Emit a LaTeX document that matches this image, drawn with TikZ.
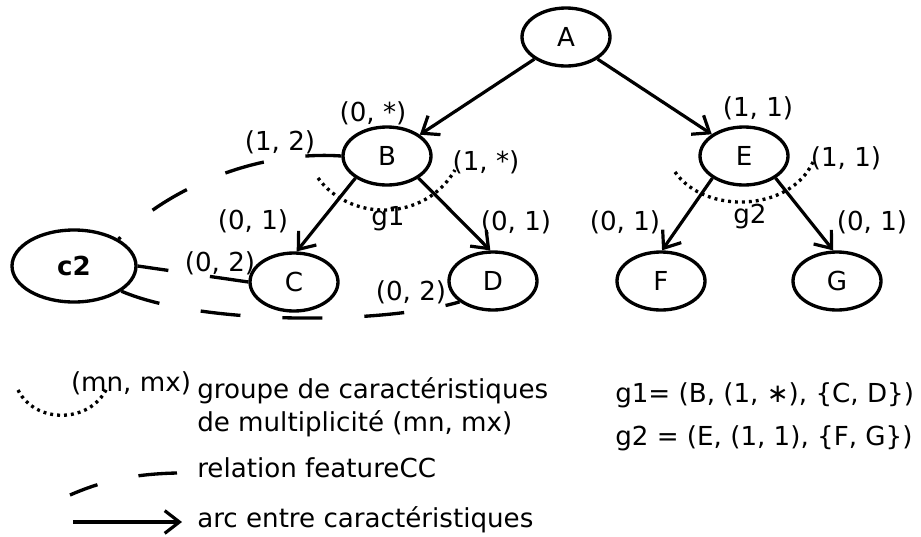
\documentclass[tikz,border=0pt]{standalone}
\usepackage{fontspec}
\setmainfont{DejaVu Sans}
\usetikzlibrary{shapes.geometric,arrows.meta}
\tikzset{
  lbl/.style={font=\fontsize{19.6}{24}\selectfont, inner sep=0pt},
  feat/.style={draw, ellipse, line width=2.5pt, minimum width=66pt, minimum height=43.5pt, inner sep=0pt, font=\fontsize{19.6}{24}\selectfont},
  arc/.style={line width=2.4pt, -{Straight Barb[length=11pt,width=17pt,line width=2.4pt]}},
  grp/.style={line width=2.5pt, dash pattern=on 2.2pt off 3pt},
  fcc/.style={line width=2.5pt, dash pattern=on 30pt off 31.5pt},
}
\begin{document}
\begin{tikzpicture}[x=0.75pt,y=-0.75pt]
\useasboundingbox (0,0) rectangle (921,536);
% nodes
\node[feat] (A) at (566,37) {A};
\node[feat] (B) at (387,156) {B};
\node[feat] (E) at (744,156) {E};
\node[feat] (C) at (294,282) {C};
\node[feat] (D) at (493,281) {D};
\node[feat] (F) at (661,281) {F};
\node[feat] (G) at (837,281) {G};
\node[feat, minimum width=93pt, minimum height=54pt, font=\fontsize{19.6}{24}\selectfont\bfseries] (c2) at (74,266) {c2};
% arcs
\draw[arc] (A.215) -- (B.33);
\draw[arc] (A.-35) -- (E.146);
\draw[arc] (B.215) -- (C.85);
\draw[arc] (B.-35) -- (D.95);
\draw[arc] (E.215) -- (F.88);
\draw[arc] (E.-35) -- (G.97);
% groups
\draw[grp] (318,178) .. controls (350,222) and (425,222) .. (455,170);
\draw[grp] (675,172) .. controls (705,215) and (790,212) .. (813,162);
% featureCC relations
\draw[fcc, dash phase=28pt] (c2.31) .. controls (165,190) and (255,150) .. (B.west);
\draw[fcc, dash phase=6.75pt] (c2.east) -- (C.west);
\draw[fcc] (c2.-28) .. controls (200,325) and (380,325) .. (D.212);
% labels
\node[lbl] (lB1) at (373,113) {(0, *)};
\node[lbl] (lB2) at (280,142) {(1, 2)};
\node[lbl] (lB3) at (486,162) {(1, *)};
\node[lbl] (lg1) at (388,219) {g1};
\node[lbl] (lC1) at (253,221) {(0, 1)};
\node[lbl] (lC2) at (220,263) {(0, 2)};
\node[lbl] (lD1) at (516,222) {(0, 1)};
\node[lbl] (lD2) at (411,292) {(0, 2)};
\node[lbl] (lE1) at (758,108) {(1, 1)};
\node[lbl] (lE2) at (846,158) {(1, 1)};
\node[lbl] (lg2) at (750,217) {g2};
\node[lbl] (lF1) at (625,222) {(0, 1)};
\node[lbl] (lG1) at (872,222) {(0, 1)};
% legend
\coordinate (d1) at (18,390);
\coordinate (d2) at (107,388);
\draw[grp] (d1) .. controls (35,424) and (90,424) .. (d2);
\node[lbl] (mnmx) at (131,383) {(mn, mx)};
\node[lbl, anchor=west] (t1) at (197,391) {groupe de caractéristiques};
\node[lbl, anchor=west] (t2) at (197,424) {de multiplicité (mn, mx)};
\coordinate (e1) at (70,495);
\coordinate (e2) at (177,473);
\draw[fcc, dash phase=8pt] (e1) .. controls (100,482) and (130,474) .. (e2);
\node[lbl, anchor=west] (t3) at (197,468) {relation featureCC};
\coordinate (a1) at (73,522);
\coordinate (a2) at (182,522);
\draw[arc] (a1) -- (a2);
\node[lbl, anchor=west] (t4) at (197,520) {arc entre caractéristiques};
\node[lbl, anchor=west] (f1) at (615,395) {g1= (B, (1, ∗), \{C, D\})};
\node[lbl, anchor=west] (f2) at (615,438) {g2 = (E, (1, 1), \{F, G\})};
\end{tikzpicture}
\end{document}
